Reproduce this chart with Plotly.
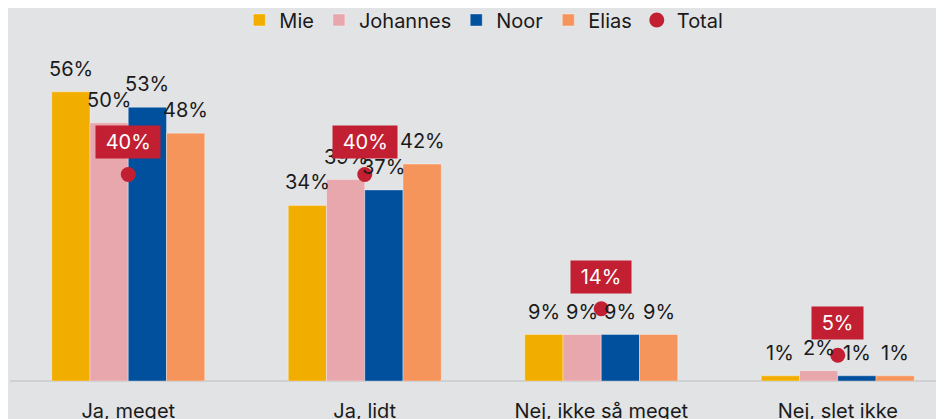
import plotly.graph_objects as go

categories = ["Ja, meget", "Ja, lidt", "Nej, ikke så meget", "Nej, slet ikke"]
series_names = ["Mie", "Johannes", "Noor", "Elias"]
mie = [56, 34, 9, 1]
johannes = [50, 39, 9, 2]
noor = [53, 37, 9, 1]
elias = [48, 42, 9, 1]
total = [40, 40, 14, 5]

colors = ["#F2AE00", "#E8A7AD", "#00509E", "#F5955C"]
red = "#C21F33"
font = "Inter"

series = [mie, johannes, noor, elias]
xs = list(range(len(categories)))
bargap = 0.353
bw = (1 - bargap) / len(series)

fig = go.Figure()
for k, (name, vals) in enumerate(zip(series_names, series)):
    fig.add_trace(go.Bar(
        x=xs, y=vals, name=name,
        marker=dict(color=colors[k], line=dict(color="rgba(255,255,255,0.35)", width=1)),
        hoverinfo="skip",
    ))
    for i, v in enumerate(vals):
        fig.add_annotation(
            x=i + (k - (len(series) - 1) / 2) * bw, y=v, text=f"{v}%",
            showarrow=False, yanchor="bottom", yshift=9,
            font=dict(family=font, size=20, color="#1a1a1a"),
        )

fig.add_trace(go.Scatter(
    x=xs, y=total, name="Total", mode="markers",
    marker=dict(color=red, size=15),
))
for i, v in enumerate(total):
    fig.add_annotation(
        x=i, y=v, text=f"&nbsp;{v}%&nbsp;", showarrow=False, yanchor="bottom", yshift=15,
        bgcolor=red, borderpad=4,
        font=dict(family=font, size=20, color="white"),
    )

fig.update_layout(
    width=944, height=419,
    paper_bgcolor="#E2E3E5", plot_bgcolor="#E2E3E5",
    margin=dict(l=2, r=0, t=42, b=46),
    barmode="group", bargap=bargap, bargroupgap=0,
    font=dict(family=font, size=20, color="#1a1a1a"),
    showlegend=True,
    legend=dict(orientation="h", x=0.503, xanchor="center", yref="container", y=0.9714,
                yanchor="middle", font=dict(size=20), itemwidth=30, tracegroupgap=0),
    xaxis=dict(range=[-0.5, 3.483], tickvals=xs, ticktext=categories, showgrid=False,
               zeroline=False, showline=False, ticks="outside", ticklen=12,
               tickcolor="rgba(0,0,0,0)", tickfont=dict(size=20, color="#1a1a1a")),
    yaxis=dict(range=[0, 64.1], showgrid=False, zeroline=True, zerolinecolor="#CFD0D2",
               zerolinewidth=2, showticklabels=False),
)

fig.write_html("out.html")
